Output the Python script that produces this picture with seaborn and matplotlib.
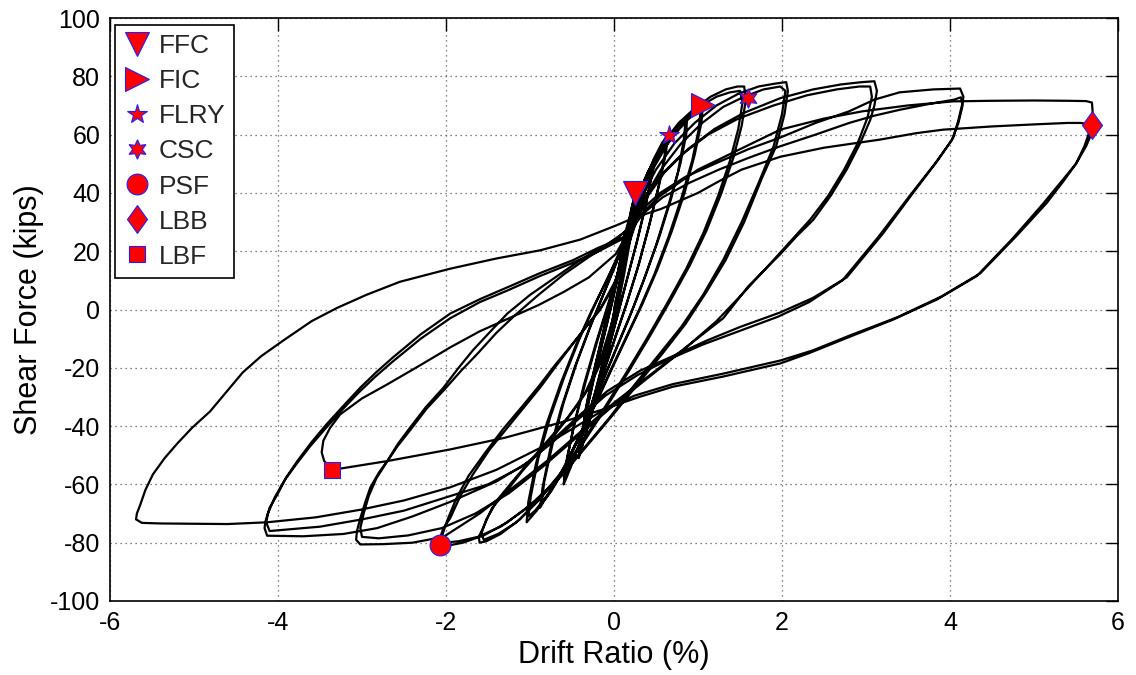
import numpy as np
import pandas as pd
import matplotlib
matplotlib.use("Agg")
import matplotlib.pyplot as plt
import seaborn as sns

# ---------------- data: hysteresis cycles (drift %, shear kips) ----------------
cyc_025a = [(0.00,0),(0.07,10),(0.14,21),(0.20,31),(0.25,40),(0.23,34),(0.16,22),(0.08,9),(0.00,-4),(-0.09,-15),(-0.18,-25),(-0.27,-33),(-0.34,-39),(-0.36,-40),(-0.32,-33),(-0.24,-22),(-0.14,-10),(-0.04,2),(0.04,12)]
cyc_025b = [(0.04,12),(0.10,20),(0.17,29),(0.22,36),(0.25,39),(0.22,32),(0.15,20),(0.06,7),(-0.03,-6),(-0.12,-17),(-0.21,-27),(-0.29,-35),(-0.35,-40),(-0.33,-34),(-0.25,-23),(-0.15,-11),(-0.05,1),(0.04,11)]
cyc_025c = [(0.04,11),(0.11,21),(0.18,30),(0.23,37),(0.26,40),(0.24,34),(0.17,23),(0.09,11),(0.01,-2),(-0.08,-13),(-0.17,-24),(-0.26,-33),(-0.33,-39),(-0.37,-41),(-0.34,-35),(-0.27,-25),(-0.17,-13),(-0.07,-1),(0.02,9)]
cyc_025d = [(0.02,9),(0.09,19),(0.16,28),(0.21,35),(0.24,38),(0.21,31),(0.13,18),(0.04,5),(-0.05,-8),(-0.14,-19),(-0.23,-29),(-0.31,-37),(-0.36,-41),(-0.35,-36),(-0.28,-26),(-0.19,-15),(-0.09,-3),(0.01,8)]
cyc_05a = [(0.01,8),(0.10,20),(0.19,30),(0.28,38),(0.37,45),(0.44,49),(0.47,51),(0.45,46),(0.38,36),(0.28,24),(0.17,12),(0.06,0),(-0.05,-12),(-0.15,-23),(-0.25,-34),(-0.34,-43),(-0.40,-49),(-0.42,-51),(-0.40,-46),(-0.33,-35),(-0.23,-22),(-0.12,-9),(-0.02,3),(0.07,15)]
cyc_05b = [(0.07,15),(0.15,25),(0.24,34),(0.33,41),(0.41,47),(0.46,50),(0.44,45),(0.37,35),(0.27,23),(0.16,11),(0.05,-1),(-0.06,-13),(-0.16,-24),(-0.26,-35),(-0.35,-44),(-0.41,-50),(-0.39,-45),(-0.31,-33),(-0.21,-20),(-0.10,-7),(0.00,5),(0.08,15)]
cyc_06a = [(0.08,15),(0.17,26),(0.27,36),(0.38,45),(0.48,52),(0.57,57),(0.64,60),(0.62,54),(0.54,43),(0.43,30),(0.30,16),(0.16,3),(0.02,-9),(-0.12,-21),(-0.26,-33),(-0.39,-44),(-0.50,-53),(-0.57,-58),(-0.60,-60),(-0.57,-53),(-0.48,-40),(-0.36,-26),(-0.22,-12),(-0.08,1),(0.05,13)]
cyc_06b = [(0.05,13),(0.15,25),(0.26,35),(0.37,44),(0.47,51),(0.56,56),(0.62,58),(0.60,52),(0.52,41),(0.41,28),(0.28,14),(0.14,1),(0.00,-11),(-0.14,-23),(-0.28,-35),(-0.41,-46),(-0.52,-54),(-0.59,-58),(-0.56,-51),(-0.46,-38),(-0.33,-24),(-0.19,-10),(-0.05,3),(0.07,15)]
cyc_09a = [(0.07,15),(0.17,27),(0.29,38),(0.42,47),(0.55,54),(0.68,60),(0.79,64),(0.87,66),(0.86,60),(0.79,50),(0.68,38),(0.54,25),(0.38,12),(0.22,0),(0.06,-11),(-0.10,-22),(-0.27,-34),(-0.44,-45),(-0.60,-55),(-0.74,-62),(-0.84,-66),(-0.88,-68),(-0.85,-61),(-0.76,-48),(-0.63,-34),(-0.47,-20),(-0.30,-7),(-0.13,5),(0.03,16)]
cyc_09b = [(0.03,16),(0.15,27),(0.28,37),(0.41,46),(0.54,53),(0.67,58),(0.78,62),(0.85,64),(0.83,58),(0.76,47),(0.64,35),(0.50,22),(0.34,9),(0.18,-3),(0.02,-14),(-0.14,-25),(-0.31,-37),(-0.48,-48),(-0.64,-57),(-0.77,-63),(-0.86,-66),(-0.83,-59),(-0.73,-46),(-0.60,-32),(-0.44,-18),(-0.27,-5),(-0.10,7),(0.05,18)]
cyc_10a = [(0.05,18),(0.17,30),(0.31,41),(0.47,51),(0.63,58),(0.79,64),(0.93,68),(1.03,70),(1.06,70.5),(1.04,64),(0.96,53),(0.84,40),(0.69,27),(0.52,14),(0.34,2),(0.16,-9),(-0.02,-20),(-0.21,-32),(-0.40,-43),(-0.59,-54),(-0.77,-63),(-0.92,-69),(-1.01,-72),(-1.04,-73),(-1.02,-66),(-0.93,-53),(-0.80,-39),(-0.63,-25),(-0.45,-12),(-0.26,0),(-0.07,11),(0.08,20)]
cyc_10b = [(0.08,20),(0.21,32),(0.36,43),(0.52,52),(0.68,59),(0.83,64),(0.96,67),(1.03,68),(1.01,62),(0.93,51),(0.80,38),(0.65,25),(0.48,12),(0.30,0),(0.12,-11),(-0.06,-22),(-0.25,-34),(-0.44,-45),(-0.63,-56),(-0.80,-64),(-0.94,-69),(-1.02,-71),(-0.99,-64),(-0.90,-51),(-0.76,-37),(-0.59,-23),(-0.41,-10),(-0.22,2),(-0.04,13),(0.10,22)]
cyc_15a = [(0.10,22),(0.24,35),(0.40,47),(0.58,57),(0.77,64),(0.96,69),(1.15,73),(1.33,75.5),(1.47,76.5),(1.55,76.5),(1.57,72),(1.52,63),(1.42,52),(1.28,40),(1.10,27),(0.90,15),(0.67,3),(0.43,-9),(0.18,-21),(-0.08,-33),(-0.35,-45),(-0.62,-56),(-0.88,-65),(-1.12,-72),(-1.35,-77),(-1.52,-79.5),(-1.60,-80),(-1.61,-78),(-1.56,-75),(-1.45,-68),(-1.27,-62),(-1.08,-55),(-0.88,-48.6),(-0.68,-42),(-0.49,-35),(-0.30,-27),(-0.12,-16),(0.02,-3),(0.12,12),(0.20,25)]
cyc_15b = [(0.20,25),(0.32,37),(0.48,49),(0.66,58),(0.85,65),(1.04,70),(1.22,73),(1.38,74.5),(1.50,75),(1.53,71),(1.48,62),(1.38,51),(1.24,39),(1.06,26),(0.86,14),(0.63,2),(0.39,-10),(0.14,-22),(-0.12,-34),(-0.39,-46),(-0.66,-57),(-0.92,-66),(-1.16,-73),(-1.38,-77),(-1.55,-79),(-1.58,-77),(-1.52,-72),(-1.38,-65),(-1.18,-58),(-0.97,-51),(-0.76,-44),(-0.55,-37),(-0.35,-29),(-0.17,-18),(-0.02,-4),(0.10,12),(0.20,26)]
cyc_20a = [(0.20,26),(0.32,38),(0.50,48),(0.72,57),(0.96,64),(1.22,70),(1.48,74),(1.72,76.5),(1.92,77.5),(2.05,78),(2.07,75),(2.03,67),(1.93,56),(1.76,45),(1.55,30),(1.33,17),(1.10,6),(0.85,-5),(0.58,-15),(0.30,-25),(0.02,-35),(-0.30,-46),(-0.62,-57),(-0.95,-66),(-1.27,-73),(-1.55,-77.5),(-1.80,-80),(-1.98,-81),(-2.07,-81),(-2.08,-79),(-2.03,-75),(-1.95,-71.6),(-1.83,-64),(-1.68,-56.6),(-1.48,-48),(-1.27,-40.6),(-1.07,-33.5),(-0.88,-26.8),(-0.68,-19),(-0.49,-11.8),(-0.32,-5.5),(-0.17,-0.3),(0.00,8),(0.12,17),(0.22,27)]
cyc_20b = [(0.22,27),(0.36,38),(0.56,48),(0.80,57),(1.05,64),(1.30,69.5),(1.55,73),(1.78,75.5),(1.98,76.5),(2.04,75),(2.00,67),(1.90,56),(1.73,44),(1.52,30),(1.30,17),(1.06,5),(0.80,-6),(0.52,-16),(0.24,-26),(-0.05,-37),(-0.37,-48),(-0.70,-59),(-1.03,-68),(-1.35,-74.5),(-1.62,-78),(-1.85,-79.5),(-2.02,-80),(-2.04,-77),(-1.98,-72),(-1.88,-65),(-1.73,-57),(-1.53,-49),(-1.32,-41),(-1.10,-33.5),(-0.90,-26.5),(-0.70,-19),(-0.50,-12),(-0.32,-5.5),(-0.15,1),(0.02,10),(0.15,20),(0.24,28)]
cyc_30a = [(0.24,28),(0.38,38),(0.60,47),(0.88,55),(1.20,62),(1.55,67.5),(1.98,72.5),(2.37,75.5),(2.70,77.2),(2.95,78),(3.10,78.3),(3.13,75),(3.10,70),(3.05,65),(2.93,57),(2.77,48),(2.58,39),(2.37,30.7),(2.17,25),(1.98,19),(1.60,8),(1.30,-3),(0.90,-12),(0.45,-22),(0.00,-32),(-0.40,-42),(-0.80,-52),(-1.20,-61),(-1.60,-70),(-2.03,-78),(-2.40,-80),(-2.75,-80.5),(-3.02,-80.6),(-3.07,-79),(-3.06,-76),(-3.02,-71.6),(-2.96,-66),(-2.90,-61),(-2.80,-56),(-2.70,-52),(-2.57,-46),(-2.43,-40.6),(-2.24,-33.5),(-2.03,-26.8),(-1.85,-20),(-1.68,-14),(-1.47,-7.5),(-1.27,-1.4),(-1.00,5),(-0.70,11),(-0.40,17),(-0.10,22),(0.15,27)]
cyc_30b = [(0.15,27),(0.30,36),(0.52,45),(0.80,53),(1.12,60),(1.48,65.5),(1.90,70),(2.30,73.5),(2.65,75.5),(2.92,76.5),(3.05,76.5),(3.07,73),(3.02,66),(2.90,57),(2.74,48),(2.55,39),(2.34,31),(2.12,24),(1.90,17),(1.55,6),(1.22,-4),(0.82,-14),(0.38,-24),(-0.05,-34),(-0.45,-44),(-0.85,-54),(-1.25,-63),(-1.65,-70),(-2.05,-75),(-2.45,-77.5),(-2.80,-78.5),(-3.00,-78),(-3.02,-75),(-2.98,-70),(-2.92,-64),(-2.83,-58),(-2.72,-53),(-2.58,-47),(-2.43,-41.5),(-2.23,-34),(-2.02,-27.5),(-1.82,-21),(-1.62,-15),(-1.40,-8),(-1.18,-2),(-0.90,5),(-0.60,12),(-0.30,18),(-0.02,23),(0.18,28)]
cyc_40a = [(0.18,28),(0.32,34),(0.55,40),(0.85,45.5),(1.20,50),(1.60,55),(1.98,59),(2.40,64),(2.80,68),(3.10,72),(3.40,74.5),(3.80,75.5),(4.12,75.8),(4.16,73),(4.15,71),(4.10,65),(4.04,59),(3.85,51),(3.56,40),(3.20,26),(2.77,11),(2.37,4),(1.98,-1),(1.50,-6),(1.10,-10.7),(0.70,-16),(0.31,-21),(-0.08,-28),(-0.40,-36),(-0.70,-44),(-1.00,-52),(-1.40,-59),(-1.95,-66),(-2.40,-71),(-2.82,-75),(-3.22,-77),(-3.70,-77.8),(-4.13,-77.6),(-4.16,-75),(-4.15,-72.8),(-4.10,-68),(-4.01,-63.6),(-3.90,-57.5),(-3.77,-52),(-3.60,-45.5),(-3.42,-39.3),(-3.22,-33),(-3.02,-26.8),(-2.83,-21.5),(-2.63,-16.4),(-2.30,-8.5),(-1.95,-1.4),(-1.60,3.5),(-1.27,7.6),(-0.88,12.5),(-0.49,16.9),(-0.20,21),(0.11,24.8),(0.22,28)]
cyc_40b = [(0.22,28),(0.35,33),(0.58,38.5),(0.90,43.5),(1.25,48),(1.60,52),(1.98,56),(2.40,60),(2.80,64),(3.10,66.5),(3.40,68.5),(3.75,70.5),(4.05,72),(4.13,72.8),(4.15,70),(4.10,64),(4.02,58),(3.82,50),(3.52,39),(3.15,25),(2.72,10),(2.32,2.5),(1.95,-2.5),(1.48,-7.5),(1.06,-12),(0.66,-17),(0.28,-22.5),(-0.10,-29.5),(-0.42,-37.5),(-0.75,-46),(-1.10,-54),(-1.50,-60),(-1.95,-64),(-2.50,-69),(-3.00,-72),(-3.50,-74.5),(-4.10,-76),(-4.14,-73),(-4.12,-70),(-4.04,-64.5),(-3.92,-58.5),(-3.78,-53),(-3.62,-47),(-3.44,-41),(-3.24,-34.5),(-3.04,-28.5),(-2.84,-23),(-2.64,-18),(-2.30,-10),(-1.95,-3),(-1.60,2.5),(-1.27,6.5),(-0.88,11.5),(-0.49,16),(-0.18,20),(0.12,24.5),(0.22,29)]
cyc_56 = [(0.22,29),(0.35,33.5),(0.55,39),(1.00,48),(1.50,55),(1.98,61.7),(2.50,65.5),(2.96,68),(3.50,70),(4.04,71.4),(4.50,71.6),(5.00,71.7),(5.40,71.6),(5.62,71.5),(5.69,71),(5.70,67),(5.66,61),(5.60,56),(5.50,50),(5.35,44),(5.15,36.5),(4.80,25.5),(4.36,12.4),(3.90,4.5),(3.37,-2.7),(2.80,-9),(2.37,-14),(1.98,-17.5),(1.30,-22),(0.70,-25.6),(0.25,-29.5),(-0.08,-33.7),(-0.50,-41),(-0.88,-47.5),(-1.40,-55),(-1.95,-61),(-2.50,-65.5),(-3.02,-68.7),(-3.55,-71.3),(-4.13,-73),(-4.60,-73.6),(-5.00,-73.5),(-5.40,-73.4),(-5.62,-73.2),(-5.69,-72),(-5.68,-70),(-5.64,-67),(-5.58,-62),(-5.49,-56.6),(-5.35,-51),(-5.20,-46),(-5.02,-40.5),(-4.81,-35),(-4.62,-28.5),(-4.42,-21.6),(-4.20,-16),(-3.94,-10.7),(-3.60,-4),(-3.30,0.5),(-2.95,5),(-2.55,9.5),(-1.95,14),(-1.40,17.5),(-0.88,20.3),(-0.40,24),(0.04,29),(0.20,31)]
cyc_final = [(0.20,31),(0.40,33),(0.56,34.5),(0.80,37.5),(1.00,40),(1.25,44),(1.52,48),(1.98,52.4),(2.50,55.5),(3.17,58.3),(3.60,60.5),(3.92,61.7),(4.50,62.8),(5.00,63.5),(5.40,64),(5.55,64),(5.69,63.5),(5.68,60),(5.62,56),(5.50,50),(5.30,43),(5.10,36),(4.75,24.5),(4.32,11.5),(3.85,3.5),(3.32,-3.5),(2.75,-10),(2.32,-15),(1.98,-18.5),(1.30,-23),(0.70,-26.5),(0.30,-30),(-0.10,-34),(-0.60,-38.5),(-1.30,-44),(-1.95,-48),(-2.70,-52),(-3.35,-55),(-3.45,-52),(-3.48,-49),(-3.46,-45),(-3.38,-40.6),(-3.26,-36),(-3.00,-30.5),(-2.70,-25.7),(-2.30,-19),(-1.95,-13),(-1.60,-7.5),(-1.25,-3),(-0.90,1.5),(-0.60,6),(-0.30,11),(0.02,19),(0.18,27)]

cycles = [cyc_025a, cyc_025b, cyc_025c, cyc_025d, cyc_05a, cyc_05b, cyc_06a, cyc_06b,
          cyc_09a, cyc_09b, cyc_10a, cyc_10b, cyc_15a, cyc_15b, cyc_20a, cyc_20b,
          cyc_30a, cyc_30b, cyc_40a, cyc_40b, cyc_56, cyc_final]

# damage-state events
event_names = ["FFC", "FIC", "FLRY", "CSC", "PSF", "LBB", "LBF"]
event_drift = [0.25, 1.06, 0.65, 1.60, -2.07, 5.69, -3.36]
event_force = [40.0, 70.3, 60.0, 72.6, -80.7, 63.4, -55.2]

x_ticks = [-6, -4, -2, 0, 2, 4, 6]
y_ticks = [-100, -80, -60, -40, -20, 0, 20, 40, 60, 80, 100]

# ---------------- build long table ----------------
pts = [p for c in cycles for p in c]
df = pd.DataFrame(pts, columns=["drift", "force"])

sns.set_theme(style="white")
plt.rcParams["font.family"] = ["Liberation Sans", "DejaVu Sans"]

fig = plt.figure(figsize=(11.36, 6.75), dpi=100)
ax = fig.add_axes([110/1136, 74/675, 1008/1136, 583/675])

sns.lineplot(data=df, x="drift", y="force", sort=False, estimator=None,
             color="black", linewidth=1.6, ax=ax)

diamond = [(0, 1), (0.72, 0), (0, -1), (-0.72, 0), (0, 1)]
marker_styles = ["v", ">", "*", (6, 1, 0), "o", diamond, "s"]
marker_sizes = [17, 17, 15, 14, 15, 20, 12]
handles = []
for name, xv, yv, mk, ms in zip(event_names, event_drift, event_force, marker_styles, marker_sizes):
    h, = ax.plot([xv], [yv], linestyle="none", marker=mk, markersize=ms,
                 markerfacecolor="red", markeredgecolor="#2020ff",
                 markeredgewidth=0.8, label=name, zorder=5)
    handles.append(h)

ax.set_xlim(-6, 6)
ax.set_ylim(-100, 100)
ax.set_xticks(x_ticks)
ax.set_yticks(y_ticks)
ax.set_xticklabels([str(v) for v in x_ticks])
ax.set_yticklabels([str(v) for v in y_ticks])
ax.tick_params(direction="in", length=9, width=1, top=True, right=True,
               labelsize=18, colors="black", pad=7)
ax.grid(True, linestyle=(0, (1, 3)), color="0.35", linewidth=0.9)
for s in ax.spines.values():
    s.set_color("black")
    s.set_linewidth(1.2)
ax.set_xlabel("Drift Ratio (%)", fontsize=22, color="black", labelpad=4)
ax.set_ylabel("Shear Force (kips)", fontsize=22, color="black", labelpad=4)

leg = ax.legend(handles=handles, loc="upper left", bbox_to_anchor=(0.005, 0.988),
                fontsize=19, frameon=True, fancybox=False, framealpha=1,
                edgecolor="black", borderpad=0.35, labelspacing=0.42,
                handlelength=1.0, handletextpad=0.3, borderaxespad=0.0,
                numpoints=1)
leg.get_frame().set_linewidth(1.2)

fig.savefig("out.png", dpi=100, facecolor="white")
